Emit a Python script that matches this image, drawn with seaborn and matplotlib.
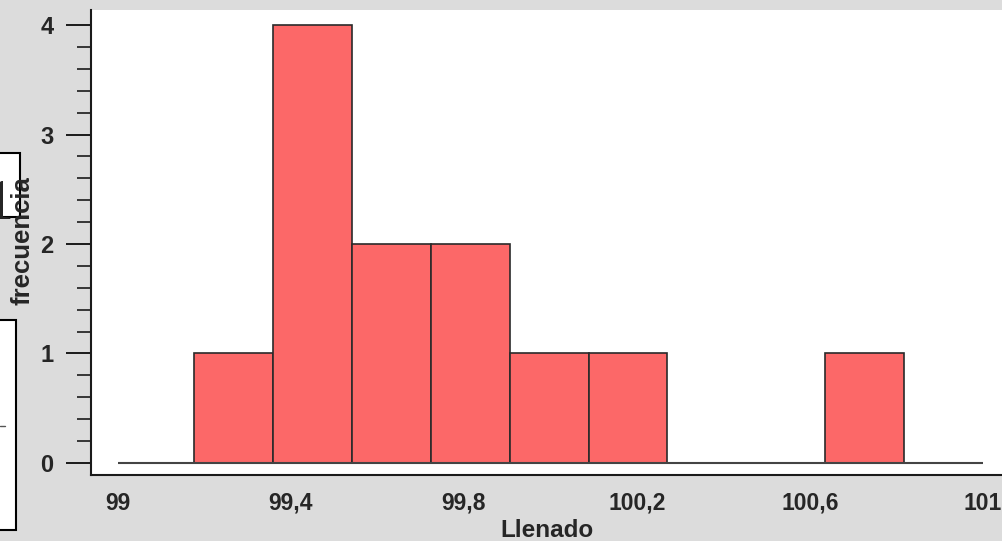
import matplotlib
matplotlib.use("Agg")
import matplotlib.pyplot as plt
from matplotlib.patches import Rectangle
from matplotlib.lines import Line2D
from matplotlib.ticker import MultipleLocator, FixedLocator, FuncFormatter
import seaborn as sns

# Data
bin_edges = [99.176, 99.358, 99.541, 99.723, 99.906, 100.088, 100.270, 100.453, 100.635, 100.818]
counts = [1, 4, 2, 2, 1, 1, 0, 0, 1]
x_ticks = [99.0, 99.4, 99.8, 100.2, 100.6, 101.0]
y_ticks = [0, 1, 2, 3, 4]
x_label = "Llenado"
y_label = "frecuencia"

bin_centers = [(a + b) / 2 for a, b in zip(bin_edges[:-1], bin_edges[1:])]

sns.set_style("white")
plt.rcParams['font.family'] = ['Liberation Sans', 'DejaVu Sans']

W, H = 1002, 541
fig = plt.figure(figsize=(W / 100, H / 100), dpi=100)
fig.patch.set_facecolor("#dcdcdc")

ax = fig.add_axes([91 / W, (H - 475) / H, (W - 91) / W, (475 - 10) / H])
ax.set_facecolor("white")

sns.histplot(x=bin_centers, weights=counts, bins=bin_edges, color="#fc6868",
             edgecolor="#2a2a2a", linewidth=1.2, alpha=1.0, ax=ax, zorder=3)

# baseline drawn by the original software
ax.hlines(0, x_ticks[0], x_ticks[-1], color="#444444", linewidth=1.5, zorder=4)

ax.set_xlim(98.9376, 101.044)
ax.set_ylim(-0.1096, 4.137)

for s in ["top", "right"]:
    ax.spines[s].set_visible(False)
ax.spines["left"].set_color("#1a1a1a")
ax.spines["left"].set_linewidth(1.5)
ax.spines["bottom"].set_color("#1a1a1a")
ax.spines["bottom"].set_linewidth(1.5)

ax.yaxis.set_major_locator(FixedLocator(y_ticks))
ax.yaxis.set_minor_locator(MultipleLocator(0.2))
ax.tick_params(axis="y", which="major", direction="out", length=18, width=1.4,
               color="#1a1a1a", pad=9, labelsize=17, left=True)
ax.tick_params(axis="y", which="minor", direction="out", length=10, width=1.2,
               color="#1a1a1a", left=True)
for lab in ax.get_yticklabels():
    lab.set_fontweight("bold")

ax.xaxis.set_major_locator(FixedLocator(x_ticks))
ax.xaxis.set_major_formatter(FuncFormatter(lambda v, p: (f"{v:.1f}".rstrip("0").rstrip(".")).replace(".", ",")))
ax.tick_params(axis="x", which="major", length=0, pad=12, labelsize=16.5)
for lab in ax.get_xticklabels():
    lab.set_fontweight("bold")

ax.set_xlabel(x_label, fontsize=17.5, fontweight="bold", labelpad=3)
ax.set_ylabel("")

# screenshot artifacts on the left
fig.add_artist(Rectangle((-2 / W, (H - 217) / H), 22 / W, 64 / H, transform=fig.transFigure,
                         facecolor="white", edgecolor="black", linewidth=1.5, zorder=1))
fig.text(-15 / W, (H - 219) / H, "1", family="Liberation Serif", fontsize=40,
         va="baseline", ha="left", zorder=2)
fig.add_artist(Rectangle((-2 / W, (H - 530) / H), 18 / W, 210 / H, transform=fig.transFigure,
                         facecolor="white", edgecolor="black", linewidth=1.5, zorder=1))
fig.add_artist(Line2D([0, 5 / W], [(H - 426) / H] * 2, transform=fig.transFigure,
                      color="#555555", linewidth=1, zorder=2))

fig.text(23 / W, (H - 241) / H, y_label, rotation=90, fontsize=18.5, fontweight="bold",
         va="center", ha="center", zorder=5)

fig.savefig("out.png", dpi=100, facecolor=fig.get_facecolor())
